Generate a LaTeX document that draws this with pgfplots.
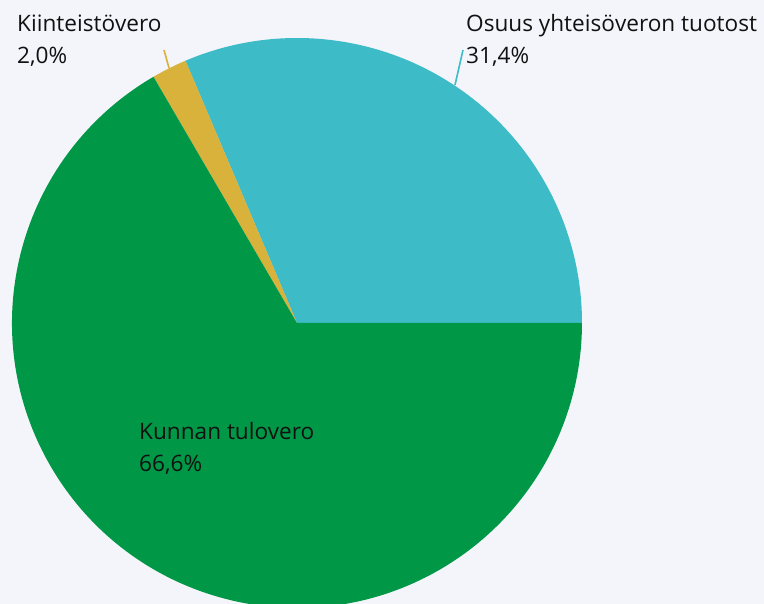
\documentclass[border=0pt]{standalone}
\usepackage{pgfplots}
\usepackage{pgfplotstable}
\pgfplotsset{compat=1.18}
\usepackage{fontspec}
\setmainfont{Open Sans}

\definecolor{bgcol}{HTML}{F4F5FA}
\definecolor{cyancol}{HTML}{3DBBC7}
\definecolor{yellowcol}{HTML}{D8B23A}
\definecolor{greencol}{HTML}{009846}
\definecolor{txtcol}{HTML}{111111}

\pgfplotstableread{
name value
yhteisovero 31.4
kiinteistovero 2.0
tulovero 66.6
}\piedata

\begin{document}
\begin{tikzpicture}
% cumulative angles, counter-clockwise from 3 o'clock
\pgfplotstablegetelem{0}{value}\of\piedata
\pgfmathsetmacro\angA{3.6*\pgfplotsretval}
\pgfplotstablegetelem{1}{value}\of\piedata
\pgfmathsetmacro\angB{\angA+3.6*\pgfplotsretval}
\pgfplotstablegetelem{2}{value}\of\piedata
\pgfmathsetmacro\angC{\angB+3.6*\pgfplotsretval}

\begin{axis}[
  scale only axis,
  width=764pt, height=604pt,
  xmin=0, xmax=764, ymin=0, ymax=604,
  hide axis,
  clip=true,
  axis background/.style={fill=bgcol},
  font=\fontsize{22.6}{26}\selectfont,
]
% slices
\fill[cyancol] (axis cs:297,281) -- ++(0:285pt) arc[start angle=0, end angle=\angA, radius=285pt] -- cycle;
\fill[yellowcol] (axis cs:297,281) -- ++(\angA:285pt) arc[start angle=\angA, end angle=\angB, radius=285pt] -- cycle;
\fill[greencol] (axis cs:297,281) -- ++(\angB:285pt) arc[start angle=\angB, end angle=\angC, radius=285pt] -- cycle;

% leader lines
\draw[yellowcol, line width=1.6pt] (axis cs:169,536) -- (axis cs:164,554);
\draw[cyancol, line width=1.6pt] (axis cs:455,519) -- (axis cs:463,554);

% labels
\node[anchor=base west, inner sep=0pt, text=txtcol] at (axis cs:17,572) {Kiinteistövero};
\node[anchor=base west, inner sep=0pt, text=txtcol] at (axis cs:17,540) {2,0\%};
\node[anchor=base west, inner sep=0pt, text=txtcol] at (axis cs:466,572) {Osuus yhteisöveron tuotost};
\node[anchor=base west, inner sep=0pt, text=txtcol] at (axis cs:466,540) {31,4\%};
\node[anchor=base west, inner sep=0pt, text=txtcol] at (axis cs:139,164) {Kunnan tulovero};
\node[anchor=base west, inner sep=0pt, text=txtcol] at (axis cs:139,132) {66,6\%};
\end{axis}
\end{tikzpicture}
\end{document}
